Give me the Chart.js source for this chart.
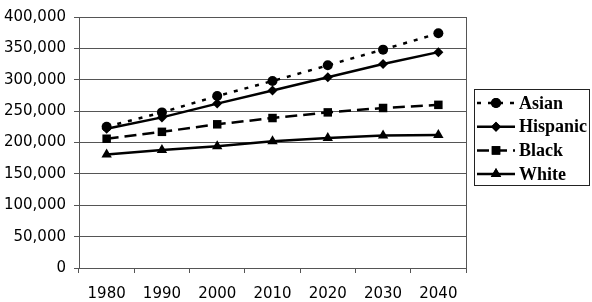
<!DOCTYPE html>
<html>
<head>
<meta charset="utf-8">
<script src="https://cdn.jsdelivr.net/npm/chart.js@4/dist/chart.umd.min.js"></script>
<style>
  html, body { margin: 0; padding: 0; background: #fff; }
  #wrap { width: 592px; height: 302px; }
</style>
</head>
<body>
<div id="wrap"><canvas id="chart"></canvas></div>
<script>
// data
const years = ["1980", "1990", "2000", "2010", "2020", "2030", "2040"];
const asian = [225000, 248000, 274000, 298000, 323000, 348000, 374000];
const hispanic = [222000, 240000, 262000, 283000, 304000, 325000, 344000];
const black = [206000, 217000, 229000, 239000, 248000, 255000, 260000];
const white = [181000, 188000, 194000, 202000, 207000, 211000, 212000];

function series(label, data, dash, style, r) {
  return {
    label: label,
    data: data,
    borderColor: "#000",
    backgroundColor: "#000",
    borderWidth: 2.5,
    borderDash: dash,
    pointStyle: style,
    pointRadius: r,
    pointBorderWidth: 0,
    tension: 0
  };
}

// legend box on the right, line + marker + label
const boxLegend = {
  id: "boxLegend",
  afterDraw(chart) {
    const ctx = chart.ctx;
    const area = chart.chartArea;
    // right edge of plot area
    ctx.save();
    ctx.strokeStyle = "#555";
    ctx.lineWidth = 1;
    ctx.beginPath();
    ctx.moveTo(area.right + 0.5, area.top);
    ctx.lineTo(area.right + 0.5, area.bottom);
    ctx.stroke();

    const x0 = area.right + 8, y0 = 89, w = 115, h = 96;
    ctx.strokeStyle = "#222";
    ctx.strokeRect(x0 + 0.5, y0 + 0.5, w, h);
    ctx.font = "bold 18px 'Liberation Serif', serif";
    ctx.textBaseline = "middle";
    chart.data.datasets.forEach((ds, i) => {
      const y = y0 + 14 + i * 23.7;
      ctx.save();
      ctx.strokeStyle = "#000";
      ctx.lineWidth = ds.borderWidth;
      ctx.setLineDash(ds.borderDash || []);
      ctx.beginPath();
      ctx.moveTo(x0 + 3, y);
      ctx.lineTo(x0 + 41, y);
      ctx.stroke();
      ctx.restore();
      ctx.fillStyle = "#000";
      Chart.helpers.drawPoint(ctx, {
        pointStyle: ds.pointStyle, radius: ds.pointRadius, rotation: 0, borderWidth: 0
      }, x0 + 22, y);
      ctx.fill();
      ctx.fillText(ds.label, x0 + 45, y + 1);
    });
    ctx.restore();
  }
};

new Chart(document.getElementById("chart"), {
  type: "line",
  data: {
    labels: years,
    datasets: [
      series("Asian", asian, [4, 7], "circle", 5),
      series("Hispanic", hispanic, [], "rectRot", 5),
      series("Black", black, [12, 6], "rect", 6),
      series("White", white, [], "triangle", 6)
    ]
  },
  options: {
    responsive: true,
    maintainAspectRatio: false,
    animation: false,
    layout: { padding: { top: 8, right: 126, left: 0, bottom: 0 } },
    plugins: { legend: { display: false }, tooltip: { enabled: false } },
    scales: {
      x: {
        offset: true,
        grid: { offset: true, drawOnChartArea: false, drawTicks: true, tickLength: 5, color: "#555" },
        border: { color: "#555" },
        ticks: { color: "#000", padding: 12, font: { family: "'DejaVu Sans'", size: 15 } },
        afterFit(axis) { axis.height = 34; }
      },
      y: {
        min: 0,
        max: 400000,
        grid: { color: "#555", tickLength: 5 },
        border: { color: "#555" },
        ticks: {
          stepSize: 50000,
          color: "#000",
          padding: 8,
          font: { family: "'DejaVu Sans'", size: 15 },
          callback: v => v.toLocaleString("en-US")
        },
        afterFit(axis) { axis.width = 79; }
      }
    }
  },
  plugins: [boxLegend]
});
</script>
</body>
</html>
